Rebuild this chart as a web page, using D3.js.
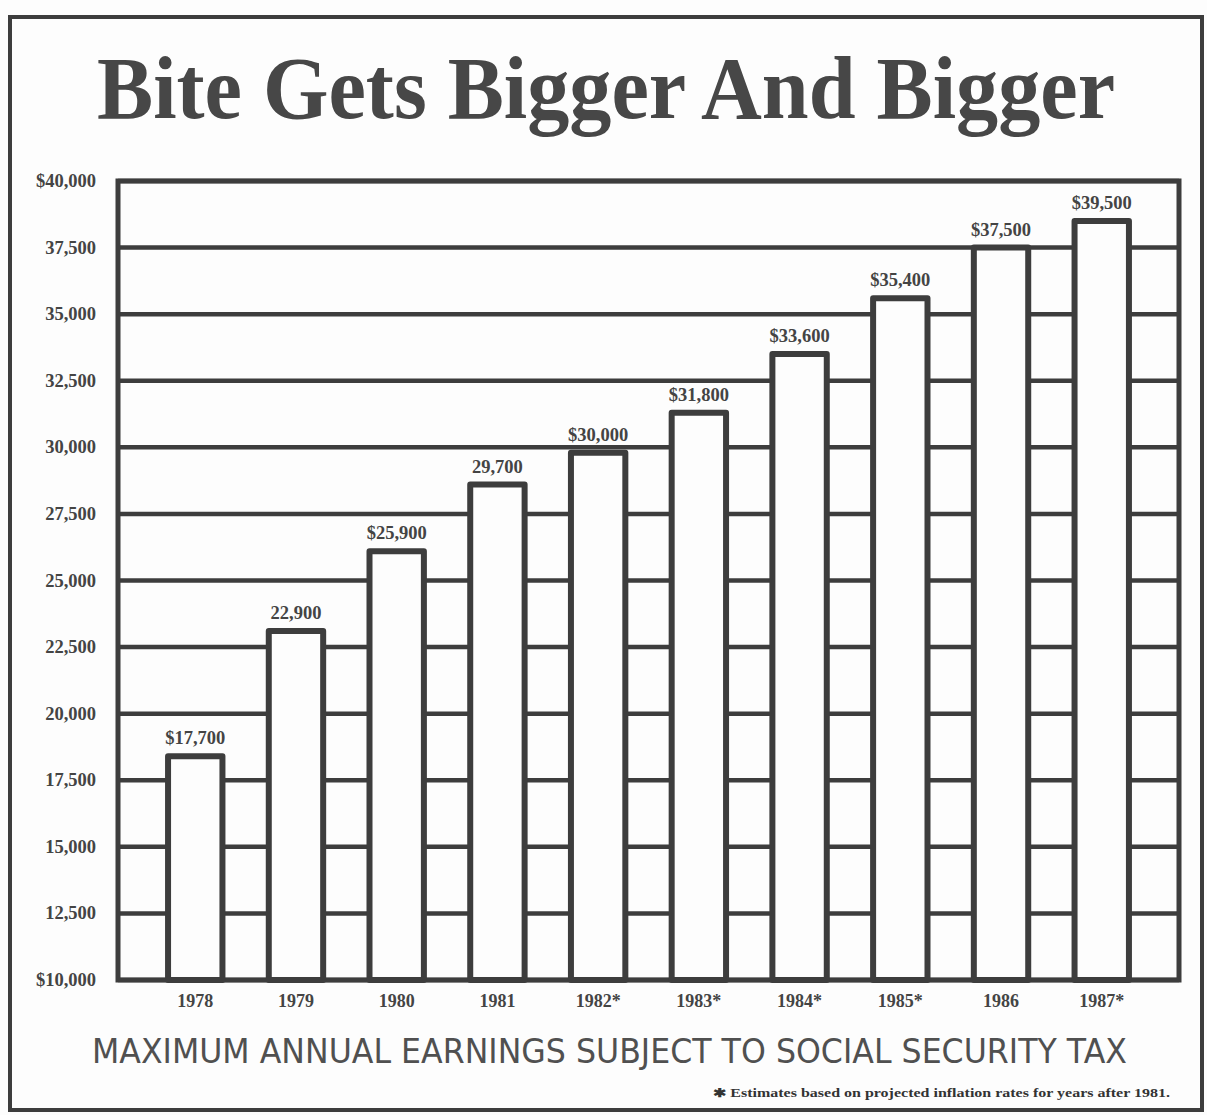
<!DOCTYPE html>
<html>
<head>
<meta charset="utf-8">
<script src="https://cdn.jsdelivr.net/npm/d3@7"></script>
<style>
  html, body { margin: 0; padding: 0; background: #fdfdfd; }
  svg { display: block; }
</style>
</head>
<body>
<svg id="chart" width="1207" height="1115"></svg>
<script>
// ---- data ----
const years = ["1978", "1979", "1980", "1981", "1982", "1983", "1984", "1985", "1986", "1987"];
const yearLabels = ["1978", "1979", "1980", "1981", "1982*", "1983*", "1984*", "1985*", "1986", "1987*"];
// bar heights as drawn in the picture
const barHeights = [18400, 23100, 26100, 28600, 29800, 31300, 33500, 35600, 37500, 38500];
// value labels as printed above the bars
const valueLabels = ["$17,700", "22,900", "$25,900", "29,700", "$30,000", "$31,800", "$33,600", "$35,400", "$37,500", "$39,500"];
const yTicks = [10000, 12500, 15000, 17500, 20000, 22500, 25000, 27500, 30000, 32500, 35000, 37500, 40000];
const yTickLabels = ["$10,000", "12,500", "15,000", "17,500", "20,000", "22,500", "25,000", "27,500", "30,000", "32,500", "35,000", "37,500", "$40,000"];

const title = "Bite Gets Bigger And Bigger";
const subtitle = "MAXIMUM ANNUAL EARNINGS SUBJECT TO SOCIAL SECURITY TAX";
const footnote = "\u2731 Estimates based on projected inflation rates for years after 1981.";

// ---- layout ----
const ink = "#3d3d3d";
const textInk = "#444";
const serif = "'Liberation Serif', 'DejaVu Serif', serif";
const plot = { left: 118, right: 1179, top: 181, bottom: 980 };

const svg = d3.select("#chart");

// outer frame
svg.append("rect")
  .attr("x", 10).attr("y", 17).attr("width", 1192).attr("height", 1093)
  .attr("fill", "none").attr("stroke", ink).attr("stroke-width", 4);

// title
svg.append("text")
  .attr("x", 97).attr("y", 118)
  .attr("textLength", 1018).attr("lengthAdjust", "spacingAndGlyphs")
  .attr("font-family", serif).attr("font-weight", "bold")
  .attr("font-size", 88).attr("fill", "#474747")
  .text(title);

// scales
const x = d3.scaleBand()
  .domain(years)
  .range([plot.left, plot.right])
  .paddingInner(0.46)
  .paddingOuter(0.497);

const y = d3.scaleLinear()
  .domain([10000, 40000])
  .range([plot.bottom, plot.top]);

// gridlines
svg.append("g")
  .selectAll("line")
  .data(yTicks)
  .join("line")
  .attr("x1", plot.left).attr("x2", plot.right)
  .attr("y1", d => y(d)).attr("y2", d => y(d))
  .attr("stroke", ink).attr("stroke-width", 4.5);

// plot frame
svg.append("rect")
  .attr("x", plot.left).attr("y", plot.top)
  .attr("width", plot.right - plot.left).attr("height", plot.bottom - plot.top)
  .attr("fill", "none").attr("stroke", ink).attr("stroke-width", 5);

// y axis labels
const yAxis = d3.axisLeft(y)
  .tickValues(yTicks)
  .tickSize(0)
  .tickPadding(0)
  .tickFormat((d, i) => yTickLabels[i]);

const gy = svg.append("g")
  .attr("transform", `translate(96,0)`)
  .call(yAxis);
gy.select(".domain").remove();
gy.selectAll("text")
  .attr("font-family", serif).attr("font-weight", "bold")
  .attr("font-size", 18.5).attr("fill", textInk)
  .attr("dy", "0.3em");

// bars
const bars = svg.append("g");
bars.selectAll("path")
  .data(barHeights)
  .join("path")
  .attr("d", (d, i) => {
    const x0 = x(years[i]), x1 = x0 + x.bandwidth();
    return `M${x0},${plot.bottom}V${y(d)}H${x1}V${plot.bottom}Z`;
  })
  .attr("fill", "#fdfdfd")
  .attr("stroke", ink).attr("stroke-width", 6)
  .attr("stroke-linejoin", "round");

// value labels
svg.append("g")
  .selectAll("text")
  .data(barHeights)
  .join("text")
  .attr("x", (d, i) => x(years[i]) + x.bandwidth() / 2)
  .attr("y", d => y(d) - 12)
  .attr("text-anchor", "middle")
  .attr("font-family", serif).attr("font-weight", "bold")
  .attr("font-size", 18.5).attr("fill", textInk)
  .text((d, i) => valueLabels[i]);

// x axis labels
const xAxis = d3.axisBottom(x)
  .tickSize(0)
  .tickPadding(0)
  .tickFormat((d, i) => yearLabels[i]);

const gx = svg.append("g")
  .attr("transform", `translate(0,${plot.bottom + 13})`)
  .call(xAxis);
gx.select(".domain").remove();
gx.selectAll("text")
  .attr("font-family", serif).attr("font-weight", "bold")
  .attr("font-size", 18).attr("fill", textInk)
  .attr("dy", "0.75em");

// subtitle
svg.append("text")
  .attr("x", 92).attr("y", 1063)
  .attr("textLength", 1035).attr("lengthAdjust", "spacingAndGlyphs")
  .attr("font-family", "'DejaVu Sans', 'Open Sans', sans-serif")
  .attr("font-size", 34).attr("fill", "#505050")
  .text(subtitle);

// footnote
svg.append("text")
  .attr("x", 713).attr("y", 1097)
  .attr("textLength", 457).attr("lengthAdjust", "spacingAndGlyphs")
  .attr("font-family", serif).attr("font-weight", "bold")
  .attr("font-size", 12).attr("fill", "#333")
  .text(footnote);
</script>
</body>
</html>
